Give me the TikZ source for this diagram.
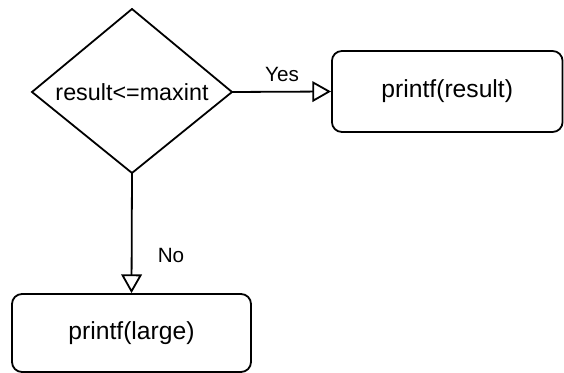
\documentclass[tikz,border=0pt]{standalone}
\usepackage{fontspec}
\setmainfont{Liberation Sans}
\usetikzlibrary{arrows.meta}
\begin{document}
\begin{tikzpicture}[x=0.75pt,y=-0.75pt,
  line width=1.35pt, line join=miter,
  procbox/.style={draw, rounded corners=7.5pt, inner sep=0pt},
  bigtext/.style={font=\fontsize{18.5}{22}\selectfont},
  dectext/.style={font=\fontsize{17.5}{21}\selectfont},
  lbl/.style={font=\fontsize{15.5}{18}\selectfont, inner sep=0pt},
  flow/.style={-{Triangle[open,length=14pt,width=15.5pt,line width=1.35pt]}}]
\useasboundingbox (0,0) rectangle (564,373);
% decision diamond
\coordinate (dT) at (132,9);
\coordinate (dL) at (32,92);
\coordinate (dR) at (232,92);
\coordinate (dB) at (132,173);
\draw (dT) -- (dR) -- (dB) -- (dL) -- cycle;
\node[dectext, inner sep=0pt] (dec) at (132,92) {result<=maxint};
% process boxes
\node[procbox, bigtext, minimum width=173pt, minimum height=60.75pt] (r1) at (447.25,91.5) {printf(result)};
\node[procbox, bigtext, minimum width=179.25pt, minimum height=58.5pt] (r2) at (131.5,333) {printf(large)};
% connectors
\draw[flow] (dR) -- (r1.west);
\draw[flow] (dB) -- (r2.north);
\node[lbl] (yes) at (282,74) {Yes};
\node[lbl] (no) at (171,255) {No};
\end{tikzpicture}
\end{document}
